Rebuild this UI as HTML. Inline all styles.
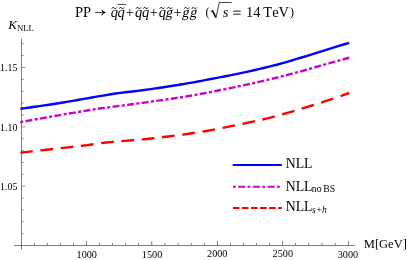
<!DOCTYPE html>
<html><head><meta charset="utf-8">
<style>
html,body{margin:0;padding:0;background:#fff;}
body{width:407px;height:260px;overflow:hidden;}
svg{display:block;will-change:transform;}
text{font-family:"Liberation Serif",serif;fill:#000;}
.tk{font-size:9.9px;}
.t{font-size:14.5px;}
.ti{font-size:14.5px;font-style:italic;}
.nk{font-kerning:none;}
.tl{fill:none;stroke:#000;stroke-width:0.75;}
.lg{font-size:13.8px;}
.sub{font-size:9px;}
.subi{font-size:9px;font-style:italic;}
</style></head><body>
<svg width="407" height="260" viewBox="0 0 407 260">
<rect width="407" height="260" fill="#fff"/>
<!-- axes -->
<g fill="none" stroke="#2a2a2a" stroke-width="0.6">
<path d="M21.5 38.6V249.6"/>
<path d="M14.2 245.5H355"/>
<path d="M21.5 233.63h2.3M21.5 221.77h2.3M21.5 209.90h2.3M21.5 198.03h2.3M21.5 186.16h3.9M21.5 174.30h2.3M21.5 162.43h2.3M21.5 150.56h2.3M21.5 138.70h2.3M21.5 126.83h3.9M21.5 114.96h2.3M21.5 103.10h2.3M21.5 91.23h2.3M21.5 79.36h2.3M21.5 67.49h3.9M21.5 55.63h2.3M21.5 43.76h2.3" stroke-width="0.5"/>
<path d="M34.35 245.5v-2.5M47.35 245.5v-2.5M60.45 245.5v-2.5M73.50 245.5v-2.5M86.45 245.5v-4.4M99.45 245.5v-2.5M112.52 245.5v-2.5M125.58 245.5v-2.5M138.65 245.5v-2.5M151.75 245.5v-4.4M165.00 245.5v-2.5M178.13 245.5v-2.5M191.27 245.5v-2.5M204.40 245.5v-2.5M217.45 245.5v-4.4M230.50 245.5v-2.5M243.52 245.5v-2.5M256.53 245.5v-2.5M269.55 245.5v-2.5M282.50 245.5v-4.4M295.50 245.5v-2.5M308.75 245.5v-2.5M322.00 245.5v-2.5M335.25 245.5v-2.5M348.45 245.5v-4.4" stroke-width="0.6"/>
</g>
<!-- tick labels -->
<text x="86.75" y="257.7" text-anchor="middle" class="tk" style="font-size:10.2px">1000</text>
<text x="152.05" y="257.7" text-anchor="middle" class="tk" style="font-size:10.2px">1500</text>
<text x="217.25" y="257.4" text-anchor="middle" class="tk" style="font-size:10.2px">2000</text>
<text x="282.80" y="257.4" text-anchor="middle" class="tk" style="font-size:10.2px">2500</text>
<text x="347.95" y="257.5" text-anchor="middle" class="tk" style="font-size:10.2px">3000</text>
<text x="17.4" y="189.66" text-anchor="end" class="tk">1.05</text>
<text x="17.4" y="131.03" text-anchor="end" class="tk">1.10</text>
<text x="17.4" y="71.04" text-anchor="end" class="tk">1.15</text>

<!-- curves -->
<g fill="none" stroke-width="2.4">
<path d="M20.40 108.75 L25.17 108.12 L29.93 107.47 L34.70 106.80 L39.46 106.12 L44.23 105.42 L48.99 104.71 L53.76 103.98 L58.52 103.24 L63.29 102.47 L68.05 101.67 L72.82 100.84 L77.58 100.01 L82.35 99.16 L87.11 98.32 L91.88 97.49 L96.64 96.68 L101.41 95.87 L106.17 95.06 L110.94 94.27 L115.70 93.53 L120.47 92.87 L125.23 92.30 L130.00 91.76 L134.77 91.22 L139.53 90.62 L144.30 89.98 L149.06 89.32 L153.83 88.64 L158.59 87.94 L163.36 87.24 L168.12 86.51 L172.89 85.77 L177.65 85.01 L182.42 84.22 L187.18 83.40 L191.95 82.57 L196.71 81.71 L201.48 80.84 L206.24 79.93 L211.01 79.00 L215.77 78.07 L220.54 77.15 L225.30 76.25 L230.07 75.34 L234.83 74.40 L239.60 73.41 L244.37 72.38 L249.13 71.30 L253.90 70.21 L258.66 69.10 L263.43 67.98 L268.19 66.86 L272.96 65.69 L277.72 64.47 L282.49 63.17 L287.25 61.80 L292.02 60.39 L296.78 58.95 L301.55 57.52 L306.31 56.06 L311.08 54.58 L315.84 53.10 L320.61 51.62 L325.37 50.12 L330.14 48.62 L334.90 47.14 L339.67 45.67 L344.43 44.23 L349.20 42.80" stroke="#0000ff"/>
<path d="M20.40 122.20 L25.17 121.31 L29.94 120.42 L34.70 119.54 L39.47 118.68 L44.24 117.82 L49.01 116.97 L53.78 116.13 L58.54 115.31 L63.31 114.48 L68.08 113.66 L72.85 112.85 L77.62 112.04 L82.39 111.25 L87.15 110.47 L91.92 109.72 L96.69 108.99 L101.46 108.30 L106.23 107.63 L110.99 106.99 L115.76 106.37 L120.53 105.75 L125.30 105.14 L130.07 104.52 L134.83 103.88 L139.60 103.23 L144.37 102.57 L149.14 101.92 L153.91 101.26 L158.68 100.59 L163.44 99.92 L168.21 99.23 L172.98 98.52 L177.75 97.79 L182.52 97.04 L187.28 96.26 L192.05 95.46 L196.82 94.63 L201.59 93.78 L206.36 92.89 L211.12 91.97 L215.89 91.02 L220.66 90.04 L225.43 89.05 L230.20 88.06 L234.97 87.06 L239.73 86.06 L244.50 85.06 L249.27 84.03 L254.04 82.99 L258.81 81.92 L263.57 80.82 L268.34 79.69 L273.11 78.54 L277.88 77.36 L282.65 76.15 L287.41 74.92 L292.18 73.67 L296.95 72.38 L301.72 71.06 L306.49 69.72 L311.26 68.36 L316.02 67.00 L320.79 65.64 L325.56 64.29 L330.33 62.96 L335.10 61.64 L339.86 60.32 L344.63 59.01 L349.40 57.70" stroke="#cc00cc" stroke-dasharray="3.1 2.33 6.94 2.33" stroke-dashoffset="0.2"/>
<path d="M20.40 152.70 L25.17 152.15 L29.93 151.61 L34.70 151.06 L39.47 150.52 L44.23 149.99 L49.00 149.46 L53.77 148.93 L58.53 148.40 L63.30 147.87 L68.07 147.33 L72.83 146.79 L77.60 146.25 L82.37 145.69 L87.13 145.11 L91.90 144.48 L96.67 143.81 L101.43 143.15 L106.20 142.56 L110.97 142.07 L115.73 141.64 L120.50 141.24 L125.27 140.85 L130.03 140.43 L134.80 140.03 L139.57 139.62 L144.33 139.20 L149.10 138.73 L153.87 138.21 L158.63 137.65 L163.40 137.06 L168.17 136.47 L172.93 135.87 L177.70 135.25 L182.47 134.61 L187.23 133.95 L192.00 133.25 L196.77 132.51 L201.53 131.75 L206.30 130.95 L211.07 130.11 L215.83 129.22 L220.60 128.28 L225.37 127.33 L230.13 126.37 L234.90 125.42 L239.67 124.45 L244.43 123.47 L249.20 122.45 L253.97 121.40 L258.73 120.33 L263.50 119.22 L268.27 118.06 L273.03 116.85 L277.80 115.57 L282.57 114.25 L287.33 112.90 L292.10 111.53 L296.87 110.12 L301.63 108.68 L306.40 107.21 L311.17 105.74 L315.93 104.25 L320.70 102.73 L325.47 101.19 L330.23 99.61 L335.00 98.00 L339.77 96.37 L344.53 94.70 L349.30 93.00" stroke="#ff0000" stroke-dasharray="12.75 7.65" stroke-dashoffset="0.3"/>
</g>
<!-- axis labels -->
<text x="8.3" y="28.9" style="font-size:13px;font-style:italic">K</text>
<text x="17.0" y="31.2" class="sub nk" style="font-size:8.7px">NLL</text>
<text x="363.8" y="247.8" style="font-size:12.5px" class="nk">M[GeV]</text>
<!-- title -->
<text x="74.98" y="16.9" class="t">PP</text>
<path d="M94.9 12.45H104.8" class="tl"/>
<path d="M101.8 9.75Q102.8 11.9 105.5 12.45Q102.8 13 101.8 15.15Q103.0 12.9 103.0 12.45Q103.0 12 101.8 9.75Z" fill="#000" stroke="#000" stroke-width="0.6" stroke-linejoin="round"/>
<text x="110.72" y="16.9" class="ti">q</text>
<path d="M111.90 8.55c0.6 -1.4 1.6 -1.2 2.3 -0.5s1.7 0.9 2.3 -0.5" class="tl" style="stroke-width:1"/>
<text x="117.52" y="16.9" class="ti">q</text>
<path d="M119.30 8.55c0.6 -1.4 1.6 -1.2 2.3 -0.5s1.7 0.9 2.3 -0.5" class="tl" style="stroke-width:1"/>
<text x="134.92" y="16.9" class="ti">q</text>
<path d="M136.10 8.55c0.6 -1.4 1.6 -1.2 2.3 -0.5s1.7 0.9 2.3 -0.5" class="tl" style="stroke-width:1"/>
<text x="142.02" y="16.9" class="ti">q</text>
<path d="M143.40 8.55c0.6 -1.4 1.6 -1.2 2.3 -0.5s1.7 0.9 2.3 -0.5" class="tl" style="stroke-width:1"/>
<text x="158.72" y="16.9" class="ti">q</text>
<path d="M159.90 8.55c0.6 -1.4 1.6 -1.2 2.3 -0.5s1.7 0.9 2.3 -0.5" class="tl" style="stroke-width:1"/>
<text transform="translate(165.21 16.9) skewX(-12) scale(0.95 1)" class="t">g</text>
<path d="M167.20 8.55c0.6 -1.4 1.6 -1.2 2.3 -0.5s1.7 0.9 2.3 -0.5" class="tl" style="stroke-width:1"/>
<text transform="translate(181.71 16.9) skewX(-12) scale(0.95 1)" class="t">g</text>
<path d="M184.40 8.55c0.6 -1.4 1.6 -1.2 2.3 -0.5s1.7 0.9 2.3 -0.5" class="tl" style="stroke-width:1"/>
<text transform="translate(189.61 16.9) skewX(-12) scale(0.95 1)" class="t">g</text>
<path d="M192.00 8.55c0.6 -1.4 1.6 -1.2 2.3 -0.5s1.7 0.9 2.3 -0.5" class="tl" style="stroke-width:1"/>
<path d="M117.5 4.45H126" class="tl" style="stroke-width:0.7"/>
<text x="125.68" y="16.9" class="t">+</text>
<text x="149.68" y="16.9" class="t">+</text>
<text x="173.48" y="16.9" class="t">+</text>
<text x="205.47" y="16.1" style="font-size:12.0px">(</text>
<path d="M210.5 11.6L212.4 10.5" class="tl"/>
<path d="M212.3 10.4L215.9 17.5" stroke="#000" stroke-width="1.6" fill="none"/>
<path d="M215.9 17.8L219.3 2.45H231.8" class="tl"/>
<text x="222.72" y="16.9" class="ti">s</text>
<path d="M233.25 11.15H240.7M233.25 14.2H240.7" fill="none" stroke="#000" stroke-width="0.9"/>
<text x="246.03" y="16.9" class="t">14</text>
<text x="263.34" y="16.9" class="t nk">TeV</text>
<text x="289.96" y="16.0" style="font-size:12.0px">)</text>
<!-- legend -->
<g fill="none" stroke-width="2">
<path d="M232.7 165H281.8" stroke="#0000ff"/>
<path d="M232.9 186.8H280" stroke="#cc00cc" stroke-dasharray="2.9 2.4 7 2.4"/>
<path d="M232.9 208.1H281.8" stroke="#ff0000" stroke-dasharray="6.6 2.45"/>
</g>
<text x="285.7" y="167.6" class="lg nk">NLL</text>
<text x="285.7" y="190.5" class="lg nk">NLL</text>
<text x="311.8" y="191.6" class="sub" style="font-size:9.8px;word-spacing:-0.9px">no BS</text>
<text x="285.7" y="211.1" class="lg nk">NLL</text>
<text x="312" y="213.2" class="subi" style="font-size:9.5px">s+h</text>
</svg>
</body></html>
